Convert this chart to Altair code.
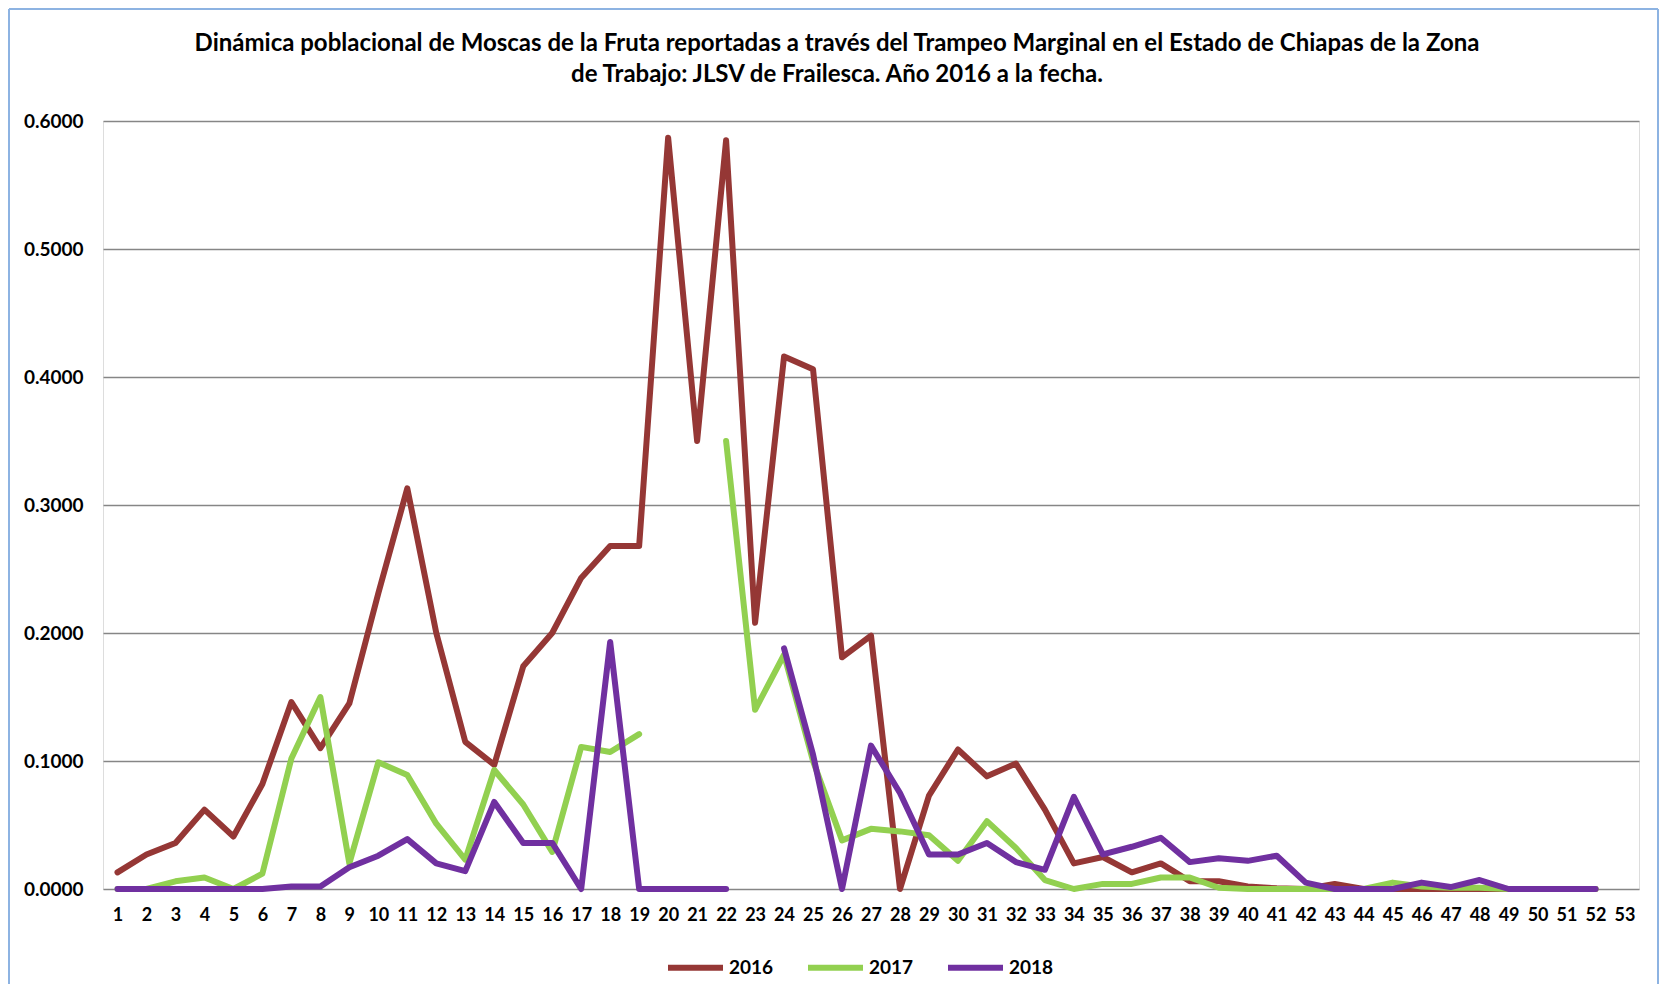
import altair as alt
import pandas as pd

weeks = list(range(1, 54))
years = ["2016", "2017", "2018"]
colors = ["#953735", "#92D050", "#7030A0"]
title_lines = [
    "Dinámica poblacional de Moscas de la Fruta reportadas a través del Trampeo Marginal en el Estado de Chiapas de la Zona",
    "de Trabajo: JLSV de Frailesca. Año 2016 a la fecha.",
]

v2016 = [0.013, 0.027, 0.036, 0.062, 0.041, 0.082, 0.146, 0.110, 0.145, 0.231,
         0.313, 0.200, 0.115, 0.097, 0.174, 0.200, 0.243, 0.268, 0.268, 0.587,
         0.350, 0.585, 0.208, 0.416, 0.406, 0.181, 0.198, 0.000, 0.073, 0.109,
         0.088, 0.098, 0.062, 0.020, 0.025, 0.013, 0.020, 0.006, 0.006, 0.002,
         0.0005, 0.000, 0.004, 0.000, 0.000, 0.000, 0.000, 0.000, 0.000, 0.000,
         0.000, 0.000]
v2017 = [0.000, 0.000, 0.006, 0.009, 0.000, 0.012, 0.102, 0.150, 0.020, 0.099,
         0.089, 0.051, 0.023, 0.093, 0.066, 0.029, 0.111, 0.107, 0.121, None,
         None, 0.350, 0.140, 0.183, 0.100, 0.038, 0.047, 0.045, 0.042, 0.022,
         0.053, 0.032, 0.007, 0.000, 0.004, 0.004, 0.009, 0.009, 0.001, 0.000,
         0.000, 0.000, 0.000, 0.000, 0.005, 0.002, 0.001, 0.001, 0.000, 0.000,
         0.000, 0.000]
v2018 = [0.000, 0.000, 0.000, 0.000, 0.000, 0.000, 0.002, 0.002, 0.017, 0.026,
         0.039, 0.020, 0.014, 0.068, 0.036, 0.036, 0.000, 0.193, 0.000, 0.000,
         0.000, 0.000, None, 0.188, 0.105, 0.000, 0.112, 0.075, 0.027, 0.027,
         0.036, 0.021, 0.015, 0.072, 0.027, 0.033, 0.040, 0.021, 0.024, 0.022,
         0.026, 0.005, 0.000, 0.000, 0.000, 0.005, 0.0015, 0.007, 0.000, 0.000,
         0.000, 0.000]

rows = []
for year, vals in zip(years, [v2016, v2017, v2018]):
    seg = 0
    for w, v in zip(weeks, vals):
        if v is None:
            seg += 1
            continue
        rows.append({"Semana": w, "Valor": v, "Año": year, "seg": f"{year}-{seg}"})
df = pd.DataFrame(rows)

FONT = "Lato"
W, H = 1536, 768
PL, PT, PR, PB = 95, 113, 20, 95

lines = alt.Chart(df).mark_line(strokeWidth=6, strokeCap="round", strokeJoin="round").encode(
    x=alt.X("Semana:O", sort=weeks,
            scale=alt.Scale(domain=weeks, padding=0.5),
            axis=alt.Axis(title=None, labelAngle=0, domain=False, ticks=False,
                          labelFont=FONT, labelFontSize=18, labelFontWeight="bold",
                          labelColor="#000000", labelPadding=17, grid=False)),
    y=alt.Y("Valor:Q",
            scale=alt.Scale(domain=[0, 0.6], nice=False),
            axis=alt.Axis(title=None, format=".4f", values=[0, 0.1, 0.2, 0.3, 0.4, 0.5, 0.6],
                          domain=False, ticks=False, labelFont=FONT, labelFontSize=19,
                          labelFontWeight="bold", labelColor="#000000", labelPadding=20,
                          grid=True, gridColor="#868686", gridWidth=1.5)),
    color=alt.Color("Año:N", scale=alt.Scale(domain=years, range=colors),
                    legend=alt.Legend(title=None, orient="none", legendX=562, legendY=816,
                                      direction="horizontal", symbolType="stroke",
                                      symbolSize=3025, symbolStrokeWidth=6,
                                      labelFont=FONT, labelFontSize=19,
                                      labelFontWeight="bold", labelColor="#000000",
                                      labelOffset=3, columnPadding=22, padding=0)),
    detail="seg:N",
)

frame = pd.DataFrame({"k": [0]})

title1 = alt.Chart(frame).mark_text(font=FONT, fontSize=24, fontWeight="bold", color="#000000",
                                    align="center", baseline="middle").encode(
    x=alt.value(734), y=alt.value(-77), text=alt.value(title_lines[0]))
title2 = alt.Chart(frame).mark_text(font=FONT, fontSize=24, fontWeight="bold", color="#000000",
                                    align="center", baseline="middle").encode(
    x=alt.value(734), y=alt.value(-46), text=alt.value(title_lines[1]))

border_color = "#8DB3E2"
left = alt.Chart(frame).mark_rule(color=border_color, strokeWidth=2).encode(
    x=alt.value(-PL + 1), y=alt.value(-PT + 1), y2=alt.value(H + PB))
top = alt.Chart(frame).mark_rule(color=border_color, strokeWidth=2).encode(
    x=alt.value(-PL + 1), x2=alt.value(W + PR - 1), y=alt.value(-PT + 1))
right = alt.Chart(frame).mark_rule(color=border_color, strokeWidth=2).encode(
    x=alt.value(W + PR - 1), y=alt.value(-PT + 1), y2=alt.value(H + PB))

chart = alt.layer(lines, title1, title2, left, top, right).properties(
    width=W, height=H,
    padding={"left": PL, "top": PT, "right": PR, "bottom": PB},
    autosize=alt.AutoSizeParams(type="none"),
).configure_view(stroke=None).configure(background="#ffffff")

chart.save("out.html", embed_options={"renderer": "svg", "actions": False})
